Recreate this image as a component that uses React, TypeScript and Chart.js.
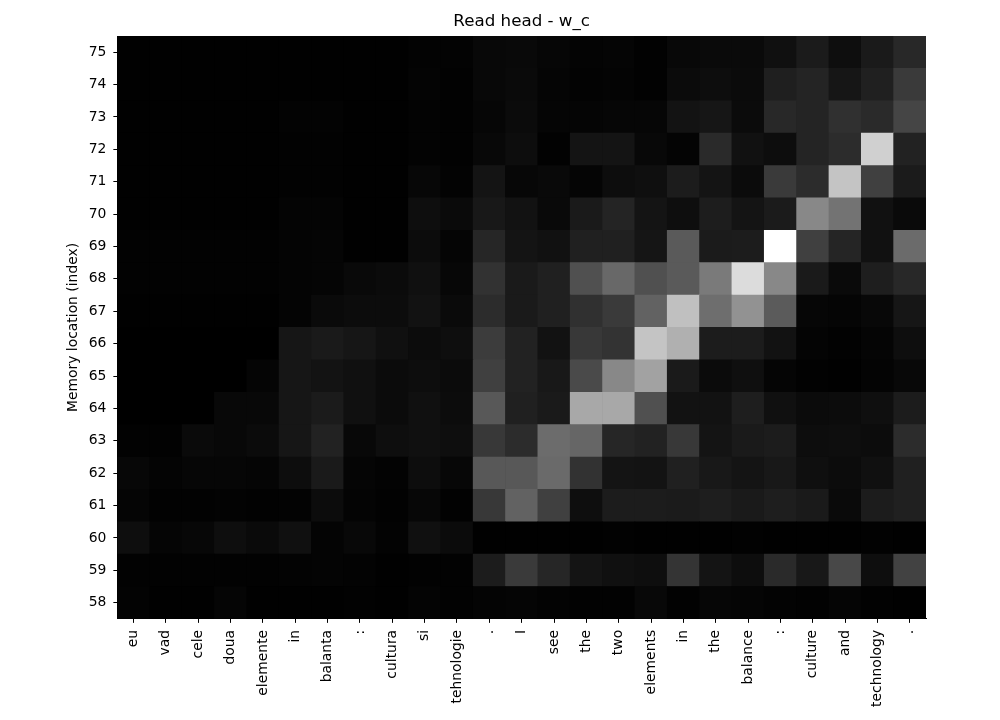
import React, { useEffect, useRef } from "react";
import { Chart, registerables } from "chart.js";

Chart.register(...registerables);

// Input tokens (x categories)
const tokens = [
  "eu", "vad", "cele", "doua", "elemente", "in", "balanta", ":", "cultura", "si", "tehnologie", ".",
  "I", "see", "the", "two", "elements", "in", "the", "balance", ":", "culture", "and", "technology", ".",
];

// Memory locations (y rows, bottom to top)
const locations = [58, 59, 60, 61, 62, 63, 64, 65, 66, 67, 68, 69, 70, 71, 72, 73, 74, 75];

// Read weights per memory location, as grey intensity (0 = black, 255 = white), one value per token
const loc58 = [3, 1, 1, 5, 1, 1, 1, 2, 1, 4, 2, 4, 5, 3, 2, 2, 8, 2, 6, 5, 3, 2, 5, 2, 1];
const loc59 = [2, 2, 2, 2, 2, 3, 4, 3, 1, 2, 2, 28, 58, 38, 20, 16, 14, 52, 20, 13, 42, 24, 72, 14, 66];
const loc60 = [14, 5, 7, 14, 10, 16, 4, 8, 3, 16, 11, 1, 1, 1, 1, 2, 1, 1, 1, 2, 1, 1, 1, 2, 1];
const loc61 = [5, 2, 2, 3, 2, 3, 12, 4, 2, 7, 2, 56, 98, 64, 14, 28, 28, 27, 30, 26, 30, 26, 10, 28, 32];
const loc62 = [7, 4, 6, 6, 5, 13, 26, 5, 3, 13, 7, 88, 88, 106, 50, 20, 19, 32, 24, 20, 24, 15, 12, 16, 32];
const loc63 = [2, 2, 10, 8, 11, 22, 34, 8, 14, 16, 14, 56, 44, 108, 102, 38, 34, 56, 20, 26, 28, 13, 14, 12, 44];
const loc64 = [0, 0, 0, 8, 8, 22, 27, 16, 11, 16, 12, 88, 32, 26, 168, 168, 80, 18, 18, 30, 16, 11, 12, 15, 28];
const loc65 = [0, 0, 0, 0, 5, 22, 19, 16, 11, 13, 11, 64, 34, 24, 74, 136, 162, 26, 11, 15, 5, 2, 1, 4, 8];
const loc66 = [0, 0, 0, 0, 0, 22, 26, 22, 16, 12, 14, 60, 34, 18, 56, 51, 196, 176, 28, 28, 18, 4, 2, 5, 14];
const loc67 = [1, 1, 1, 1, 1, 4, 10, 12, 12, 18, 10, 44, 26, 32, 48, 58, 98, 192, 110, 146, 91, 6, 5, 8, 22];
const loc68 = [2, 2, 2, 2, 2, 4, 5, 9, 11, 16, 7, 50, 26, 32, 80, 104, 80, 90, 122, 220, 136, 26, 10, 30, 40];
const loc69 = [2, 2, 2, 2, 2, 4, 5, 1, 1, 12, 5, 38, 20, 17, 32, 32, 21, 90, 27, 28, 255, 64, 37, 17, 107];
const loc70 = [1, 1, 1, 1, 1, 4, 4, 1, 1, 14, 10, 24, 18, 9, 26, 36, 20, 14, 29, 20, 27, 136, 115, 17, 10];
const loc71 = [1, 1, 1, 1, 1, 2, 2, 1, 1, 7, 3, 20, 7, 9, 5, 13, 15, 28, 20, 11, 58, 44, 196, 64, 27];
const loc72 = [1, 1, 1, 1, 1, 2, 2, 1, 1, 3, 2, 8, 13, 2, 20, 20, 8, 4, 42, 17, 13, 36, 44, 208, 34];
const loc73 = [1, 1, 1, 1, 1, 3, 3, 1, 1, 3, 2, 6, 11, 5, 5, 6, 6, 19, 22, 11, 40, 36, 48, 42, 69];
const loc74 = [1, 1, 1, 1, 1, 1, 1, 1, 1, 4, 2, 8, 10, 5, 3, 4, 2, 11, 13, 11, 31, 36, 22, 32, 58];
const loc75 = [1, 1, 1, 1, 1, 1, 1, 1, 1, 3, 3, 8, 9, 6, 4, 5, 2, 8, 10, 10, 16, 27, 14, 26, 40];

const rows = [loc58, loc59, loc60, loc61, loc62, loc63, loc64, loc65, loc66, loc67, loc68, loc69, loc70, loc71, loc72, loc73, loc74, loc75];

const FONT = "'DejaVu Sans', sans-serif";

const areaBackground = {
  id: "areaBackground",
  beforeDatasetsDraw(chart: any) {
    const { ctx, chartArea } = chart;
    ctx.save();
    ctx.fillStyle = "#000";
    ctx.fillRect(chartArea.left, chartArea.top, chartArea.right - chartArea.left, chartArea.bottom - chartArea.top);
    ctx.restore();
  },
};

export default function App() {
  const ref = useRef<HTMLCanvasElement>(null);

  useEffect(() => {
    document.body.style.margin = "0";
    if (!ref.current) return;
    const datasets = rows.map((vals, i) => ({
      label: String(locations[i]),
      data: tokens.map(() => 1),
      backgroundColor: vals.map((v) => `rgb(${v},${v},${v})`),
      borderWidth: 0,
      categoryPercentage: 1,
      barPercentage: 1,
      stack: "cells",
    }));

    const chart = new Chart(ref.current, {
      type: "bar",
      data: { labels: tokens, datasets },
      plugins: [areaBackground],
      options: {
        animation: false,
        responsive: false,
        events: [],
        layout: { padding: { left: 65, right: 74, top: 4, bottom: 6 } },
        plugins: {
          legend: { display: false },
          tooltip: { enabled: false },
          title: {
            display: true,
            fullSize: false,
            text: "Read head - w_c",
            color: "#000",
            font: { family: FONT, size: 16.7, weight: "normal" },
            padding: { top: 8, bottom: 4 },
          },
        },
        scales: {
          x: {
            type: "category",
            stacked: true,
            offset: true,
            grid: { display: true, drawOnChartArea: false, offset: false, tickLength: 4, color: "#000", tickColor: "#000" },
            border: { display: true, color: "#000" },
            ticks: {
              autoSkip: false,
              minRotation: 90,
              maxRotation: 90,
              color: "#000",
              padding: 7,
              font: { family: FONT, size: 13.9 },
            },
          },
          y: {
            type: "linear",
            stacked: true,
            min: 0,
            max: locations.length,
            afterBuildTicks: (scale: any) => {
              scale.ticks = locations.map((_, i) => ({ value: i + 0.5 }));
            },
            grid: { display: true, drawOnChartArea: false, tickLength: 4, color: "#000", tickColor: "#000" },
            border: { display: true, color: "#000" },
            ticks: {
              color: "#000",
              padding: 7,
              font: { family: FONT, size: 13.9 },
              callback: (_v: any, index: number) => String(locations[index]),
            },
            title: {
              display: true,
              text: "Memory location (index)",
              color: "#000",
              font: { family: FONT, size: 13.9 },
              padding: { top: 0, bottom: 0 },
            },
          },
        },
      },
    });
    return () => chart.destroy();
  }, []);

  return (
    <div style={{ width: 1000, height: 720, background: "#fff" }}>
      <canvas ref={ref} width={1000} height={720} style={{ display: "block" }} />
    </div>
  );
}
